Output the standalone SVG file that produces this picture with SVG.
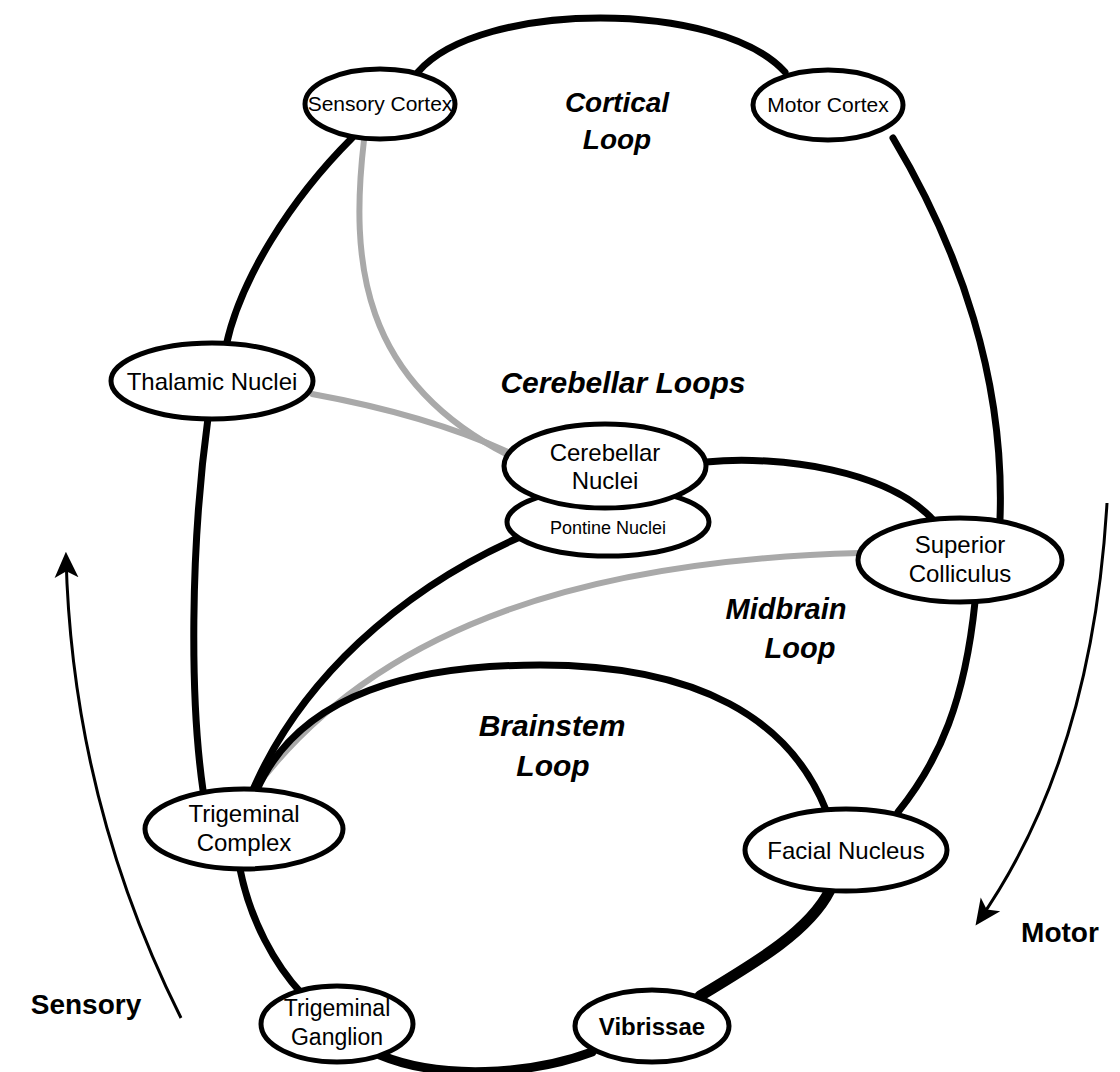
<svg xmlns="http://www.w3.org/2000/svg" width="1120" height="1072" viewBox="0 0 1120 1072">
<defs>
<style>
.blk{fill:none;stroke:#000;stroke-width:7;stroke-linecap:round}
.gry{fill:none;stroke:#a9a9a9;stroke-width:6;stroke-linecap:round}
.node{fill:#fff;stroke:#000;stroke-width:5}
.t{font-family:"Liberation Sans",Arial,sans-serif;font-size:24px;text-anchor:middle;fill:#000}
.lbl{font-family:"Liberation Sans",Arial,sans-serif;font-size:29px;font-weight:bold;font-style:italic;text-anchor:middle;fill:#000}
.big{font-family:"Liberation Sans",Arial,sans-serif;font-size:28px;font-weight:bold;text-anchor:middle;fill:#000}
.arr{fill:none;stroke:#000;stroke-width:3}
</style>
<marker id="ah" viewBox="0 0 24 24" refX="20" refY="12" markerWidth="26" markerHeight="26" markerUnits="userSpaceOnUse" orient="auto">
<path d="M0,1 L24,12 L0,23 L6,12 Z" fill="#000"/>
</marker>
</defs>
<rect width="1120" height="1072" fill="#fff"/>
<g id="connectors">
<path class="gry" d="M364 140 C350 260 360 380 508 455"/>
<path class="gry" d="M312 394 C400 410 460 430 508 452"/>
<path class="gry" d="M860 553 C600 560 380 620 254 790"/>
<path class="blk" d="M418 72 C480 0 720 0 785 72"/>
<path class="blk" d="M352 138 C290 200 240 280 226 346"/>
<path class="blk" d="M208 418 C190 550 190 700 203 790"/>
<path class="blk" d="M240 869 C250 920 275 965 302 994"/>
<path class="blk" d="M380 1055 C440 1080 530 1075 592 1052" style="stroke-width:9"/>
<path class="blk" d="M700 996 C760 960 810 930 830 890" style="stroke-width:11"/>
<path class="blk" d="M893 138 C960 250 1005 380 1000 519"/>
<path class="blk" d="M975 602 C965 700 940 760 898 812"/>
<path class="blk" d="M256 792 C300 690 420 665 540 665 C700 665 790 720 826 810"/>
<path class="blk" d="M252 792 C300 680 400 590 520 537"/>
<path class="blk" d="M706 462 C780 455 890 470 935 522"/>
</g>
<g id="arrows">
<path class="arr" d="M181 1018 Q72 800 66 556" marker-end="url(#ah)"/>
<path class="arr" d="M1107 503 Q1092 760 978 922" marker-end="url(#ah)"/>
</g>
<g id="sensory-cortex"><ellipse class="node" cx="380" cy="104" rx="75" ry="35"/><text class="t" x="380" y="111" style="font-size:21px">Sensory Cortex</text></g>
<g id="motor-cortex"><ellipse class="node" cx="828" cy="105" rx="75" ry="35"/><text class="t" x="828" y="112" style="font-size:21px">Motor Cortex</text></g>
<g id="thalamic-nuclei"><ellipse class="node" cx="212" cy="381" rx="101" ry="38"/><text class="t" x="212" y="390">Thalamic Nuclei</text></g>
<g id="pontine-nuclei"><ellipse class="node" cx="608" cy="522" rx="101" ry="34"/><text class="t" x="608" y="534" style="font-size:18px">Pontine Nuclei</text></g>
<g id="cerebellar-nuclei"><ellipse class="node" cx="605" cy="466" rx="101" ry="42"/><text class="t" x="605" y="461">Cerebellar</text><text class="t" x="605" y="489">Nuclei</text></g>
<g id="superior-colliculus"><ellipse class="node" cx="960" cy="560" rx="102" ry="42"/><text class="t" x="960" y="553">Superior</text><text class="t" x="960" y="582">Colliculus</text></g>
<g id="trigeminal-complex"><ellipse class="node" cx="244" cy="829" rx="99" ry="40"/><text class="t" x="244" y="822">Trigeminal</text><text class="t" x="244" y="851">Complex</text></g>
<g id="facial-nucleus"><ellipse class="node" cx="846" cy="850" rx="101" ry="41"/><text class="t" x="846" y="859">Facial Nucleus</text></g>
<g id="trigeminal-ganglion"><ellipse class="node" cx="337" cy="1024" rx="76" ry="38"/><text class="t" x="337" y="1016" style="font-size:23px">Trigeminal</text><text class="t" x="337" y="1045" style="font-size:23px">Ganglion</text></g>
<g id="vibrissae"><ellipse class="node" cx="652" cy="1026" rx="77" ry="36"/><text class="t" x="652" y="1035" style="font-weight:bold">Vibrissae</text></g>
<g id="labels">
<text class="lbl" x="617" y="112" style="font-size:28px">Cortical</text>
<text class="lbl" x="617" y="149" style="font-size:28px">Loop</text>
<text class="lbl" x="623" y="393" style="font-size:30px">Cerebellar Loops</text>
<text class="lbl" x="786" y="619">Midbrain</text>
<text class="lbl" x="800" y="658">Loop</text>
<text class="lbl" x="552" y="736" style="font-size:30px">Brainstem</text>
<text class="lbl" x="553" y="776" style="font-size:30px">Loop</text>
<text class="big" x="86" y="1014">Sensory</text>
<text class="big" x="1060" y="942">Motor</text>
</g>
</svg>
